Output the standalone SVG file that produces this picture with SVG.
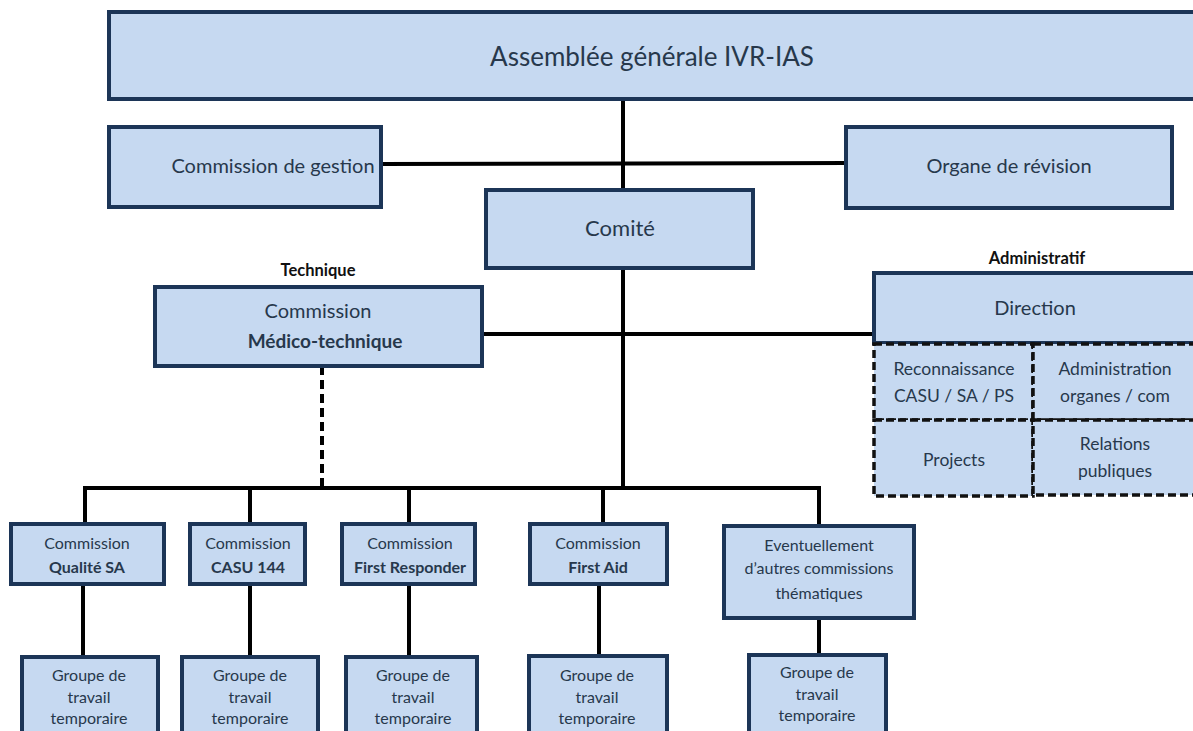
<svg xmlns="http://www.w3.org/2000/svg" width="1193" height="731" viewBox="0 0 1193 731">
<style>
.box{fill:#c6d9f1;stroke:#1c3557;stroke-width:4}
.dbox{fill:#c6d9f1;stroke:#111;stroke-width:3.5;stroke-dasharray:8 4}
.t{font-family:Lato,"Open Sans","Liberation Sans",sans-serif;fill:#27384c;text-anchor:middle}
.b{font-weight:bold}
.s{font-size:16px}
.sb{font-size:17.5px}
.lbl{font-family:Lato,"Open Sans","Liberation Sans",sans-serif;fill:#111;font-weight:bold;font-size:16.5px;text-anchor:middle}
.c{stroke:#000;stroke-width:4;fill:none}
.cd{stroke:#000;stroke-width:4;fill:none;stroke-dasharray:9 5}
</style>
<rect width="1193" height="731" fill="#fff"/>
<g id="connectors">
<line class="c" x1="623" y1="99" x2="623" y2="190"/>
<line class="c" x1="381" y1="164" x2="846" y2="163"/>
<line class="c" x1="623" y1="268" x2="623" y2="489"/>
<line class="c" x1="482" y1="334" x2="874" y2="334"/>
<line class="cd" x1="322" y1="366" x2="322" y2="488"/>
<line class="c" x1="85" y1="488" x2="820" y2="488"/>
<line class="c" x1="85" y1="486" x2="85" y2="523"/>
<line class="c" x1="250" y1="486" x2="250" y2="523"/>
<line class="c" x1="409" y1="486" x2="409" y2="523"/>
<line class="c" x1="603" y1="486" x2="603" y2="523"/>
<line class="c" x1="819" y1="486" x2="819" y2="525"/>
<line class="c" x1="83" y1="584" x2="83" y2="657"/>
<line class="c" x1="250" y1="584" x2="250" y2="657"/>
<line class="c" x1="409" y1="584" x2="409" y2="657"/>
<line class="c" x1="599" y1="584" x2="599" y2="655"/>
<line class="c" x1="819" y1="618" x2="819" y2="654"/>
</g>
<g id="assemblee">
<rect class="box" x="109" y="12" width="1090" height="87"/>
<text class="t" x="652" y="66" font-size="26">Assemblée générale IVR-IAS</text>
</g>
<g id="commission-gestion">
<rect class="box" x="109" y="127" width="272" height="80"/>
<text class="t" x="273" y="173" font-size="20">Commission de gestion</text>
</g>
<g id="organe-revision">
<rect class="box" x="846" y="127" width="326" height="81"/>
<text class="t" x="1009" y="173" font-size="20">Organe de révision</text>
</g>
<g id="comite">
<rect class="box" x="486" y="190" width="267" height="78"/>
<text class="t" x="620" y="236" font-size="22">Comité</text>
</g>
<text class="lbl" x="318" y="276">Technique</text>
<g id="medico-technique">
<rect class="box" x="155" y="287" width="327" height="79"/>
<text class="t" x="318" y="318" font-size="20">Commission</text>
<text class="t b" x="325" y="348" font-size="19">Médico-technique</text>
</g>
<text class="lbl" x="1037" y="264">Administratif</text>
<g id="direction">
<rect class="box" x="874" y="273" width="325" height="70"/>
<text class="t" x="1035" y="315" font-size="20">Direction</text>
</g>
<g id="reconnaissance">
<rect class="dbox" x="874" y="344" width="159" height="76"/>
<text class="t sb" x="954" y="375">Reconnaissance</text>
<text class="t sb" x="954" y="402">CASU / SA / PS</text>
</g>
<g id="administration">
<rect class="dbox" x="1033" y="344" width="166" height="76"/>
<text class="t sb" x="1115" y="375">Administration</text>
<text class="t sb" x="1115" y="402">organes / com</text>
</g>
<g id="projects">
<rect class="dbox" x="874" y="420" width="159" height="76"/>
<text class="t sb" x="954" y="466">Projects</text>
</g>
<g id="relations">
<rect class="dbox" x="1033" y="420" width="166" height="75"/>
<text class="t sb" x="1115" y="450">Relations</text>
<text class="t sb" x="1115" y="477">publiques</text>
</g>
<g id="qualite">
<rect class="box" x="11" y="524" width="153" height="60"/>
<text class="t s" x="87" y="549">Commission</text>
<text class="t b s" x="87" y="573">Qualité SA</text>
</g>
<g id="casu">
<rect class="box" x="190" y="524" width="115" height="60"/>
<text class="t s" x="248" y="549">Commission</text>
<text class="t b s" x="248" y="573">CASU 144</text>
</g>
<g id="first-responder">
<rect class="box" x="342" y="524" width="133" height="60"/>
<text class="t s" x="410" y="549">Commission</text>
<text class="t b s" x="410" y="573">First Responder</text>
</g>
<g id="first-aid">
<rect class="box" x="530" y="524" width="137" height="60"/>
<text class="t s" x="598" y="549">Commission</text>
<text class="t b s" x="598" y="573">First Aid</text>
</g>
<g id="eventuellement">
<rect class="box" x="724" y="526" width="190" height="92"/>
<text class="t s" x="819" y="551">Eventuellement</text>
<text class="t s" x="819" y="574">d’autres commissions</text>
<text class="t s" x="819" y="599">thématiques</text>
</g>
<g id="groupe-1">
<rect class="box" x="22" y="657" width="136" height="80"/>
<text class="t s" x="89" y="681">Groupe de</text>
<text class="t s" x="89" y="703">travail</text>
<text class="t s" x="89" y="724">temporaire</text>
</g>
<g id="groupe-2">
<rect class="box" x="182" y="657" width="136" height="80"/>
<text class="t s" x="250" y="681">Groupe de</text>
<text class="t s" x="250" y="703">travail</text>
<text class="t s" x="250" y="724">temporaire</text>
</g>
<g id="groupe-3">
<rect class="box" x="346" y="657" width="131" height="80"/>
<text class="t s" x="413" y="681">Groupe de</text>
<text class="t s" x="413" y="703">travail</text>
<text class="t s" x="413" y="724">temporaire</text>
</g>
<g id="groupe-4">
<rect class="box" x="529" y="656" width="138" height="80"/>
<text class="t s" x="597" y="681">Groupe de</text>
<text class="t s" x="597" y="703">travail</text>
<text class="t s" x="597" y="724">temporaire</text>
</g>
<g id="groupe-5">
<rect class="box" x="749" y="655" width="137" height="80"/>
<text class="t s" x="817" y="678">Groupe de</text>
<text class="t s" x="817" y="700">travail</text>
<text class="t s" x="817" y="721">temporaire</text>
</g>
</svg>
